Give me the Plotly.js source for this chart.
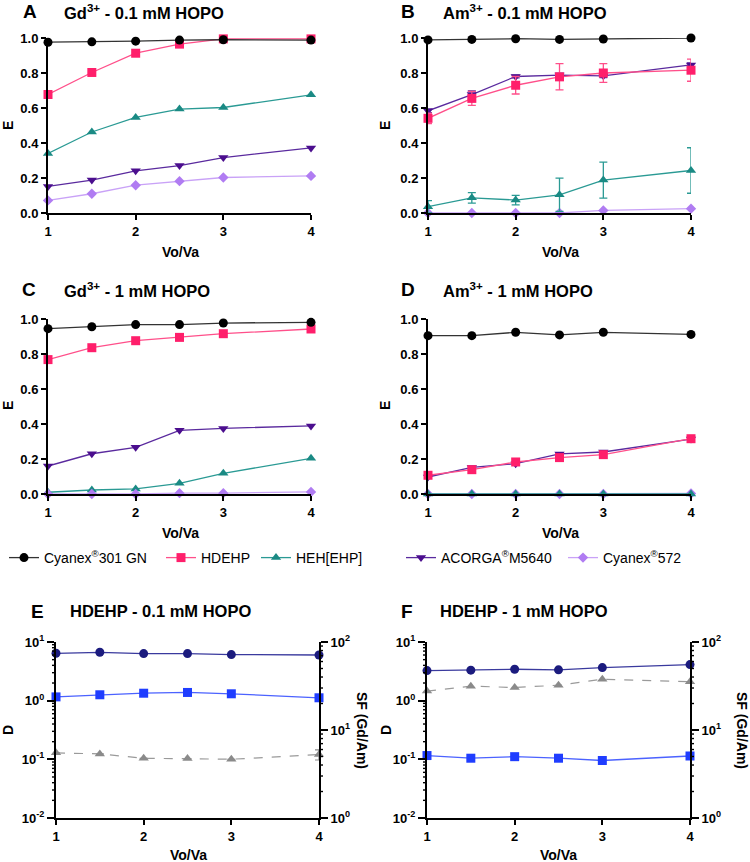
<!DOCTYPE html>
<html>
<head>
<meta charset="utf-8">
<script src="https://cdn.plot.ly/plotly-3.0.1.min.js"></script>
<style>html,body{margin:0;padding:0;background:#fff;}#chart{width:750px;height:862px;}</style>
</head>
<body>
<div id="chart"></div>
<script>
// ---------- data ----------
const vova = [1, 1.5, 2, 2.5, 3, 4];
const xTickVals = [1, 2, 3, 4];
const eTickVals = [0, 0.2, 0.4, 0.6, 0.8, 1.0];
const seriesNames = ['Cyanex<sup>®</sup>301 GN', 'HDEHP', 'HEH[EHP]', 'ACORGA<sup>®</sup>M5640', 'Cyanex<sup>®</sup>572'];

// Panel A: Gd3+ - 0.1 mM HOPO
const gd01_cyanex301 = [0.976, 0.978, 0.982, 0.988, 0.990, 0.988];
const gd01_hdehp     = [0.677, 0.803, 0.913, 0.965, 0.995, 0.995];
const gd01_heh       = [0.340, 0.463, 0.546, 0.594, 0.603, 0.675];
const gd01_acorga    = [0.152, 0.188, 0.241, 0.271, 0.317, 0.372];
const gd01_c572      = [0.072, 0.110, 0.159, 0.182, 0.203, 0.212];

// Panel B: Am3+ - 0.1 mM HOPO
const am01_cyanex301 = [0.989, 0.992, 0.996, 0.992, 0.994, 1.000];
const am01_hdehp     = [0.541, 0.655, 0.730, 0.778, 0.800, 0.816];
const am01_hdehp_err = [0.030, 0.040, 0.050, 0.075, 0.053, 0.063];
const am01_heh       = [0.036, 0.087, 0.074, 0.104, 0.188, 0.243];
const am01_heh_err   = [0.035, 0.030, 0.027, 0.095, 0.103, 0.130];
const am01_acorga    = [0.584, 0.677, 0.780, 0.788, 0.784, 0.846];
const am01_acorga_err= [0.010, 0.020, 0.008, 0.010, 0.010, 0.012];
const am01_c572      = [0.000, 0.000, 0.000, 0.000, 0.015, 0.025];

// Panel C: Gd3+ - 1 mM HOPO
const gd1_cyanex301 = [0.945, 0.956, 0.968, 0.968, 0.977, 0.981];
const gd1_hdehp     = [0.768, 0.836, 0.876, 0.895, 0.916, 0.943];
const gd1_heh       = [0.010, 0.023, 0.029, 0.061, 0.118, 0.204];
const gd1_acorga    = [0.160, 0.230, 0.267, 0.364, 0.375, 0.389];
const gd1_c572      = [0.000, 0.000, 0.000, 0.005, 0.005, 0.012];

// Panel D: Am3+ - 1 mM HOPO
const am1_cyanex301 = [0.905, 0.905, 0.924, 0.909, 0.924, 0.912];
const am1_hdehp     = [0.107, 0.139, 0.183, 0.208, 0.225, 0.316];
const am1_heh       = [0.000, 0.000, 0.000, 0.000, 0.000, 0.000];
const am1_acorga    = [0.097, 0.152, 0.173, 0.229, 0.240, 0.314];
const am1_c572      = [0.000, 0.000, 0.000, 0.000, 0.000, 0.003];

// Panel E: HDEHP - 0.1 mM HOPO
const e_dGd  = [6.42, 6.68, 6.34, 6.34, 6.10, 6.00];
const e_dAm  = [1.16, 1.26, 1.34, 1.38, 1.31, 1.12];
const e_sf   = [5.50, 5.35, 4.77, 4.73, 4.65, 5.26];
const e_sfErr= [0, 0, 0, 0, 0, 0.7];

// Panel F: HDEHP - 1 mM HOPO
const f_dGd = [3.26, 3.31, 3.43, 3.35, 3.66, 4.12];
const f_dAm = [0.116, 0.1045, 0.111, 0.1045, 0.0955, 0.114];
const f_sf  = [27.7, 31.5, 30.4, 32.3, 37.8, 35.3];

const dTickVals  = [0.01, 0.1, 1, 10];
const dTickText  = ['10<sup>-2</sup>', '10<sup>-1</sup>', '10<sup>0</sup>', '10<sup>1</sup>'];
const sfTickVals = [1, 10, 100];
const sfTickText = ['10<sup>0</sup>', '10<sup>1</sup>', '10<sup>2</sup>'];

// ---------- styles ----------
const FONT = 'Arial, "Liberation Sans", Helvetica, sans-serif';
const colors = ['#000000', '#FF1F6B', '#1A8A84', '#4B0E8E', '#B07CF2'];
const lineColors = ['#333333', '#FF4F8A', '#2A9A94', '#5A2A9E', '#C9A2F7'];
const symbols = ['circle', 'square', 'triangle-up', 'triangle-down', 'diamond'];
const mSizes = [9, 9, 9, 9, 8];
const legendIds = ['legend', 'legend2', 'legend3', 'legend4', 'legend5'];

const traces = [];
function addSeries(xa, ya, idx, y, err, showLeg) {
  const t = {
    x: vova, y: y, type: 'scatter', mode: 'lines+markers',
    xaxis: xa, yaxis: ya, name: seriesNames[idx], cliponaxis: false,
    line: {color: lineColors[idx], width: 1.3},
    marker: {color: colors[idx], symbol: symbols[idx], size: mSizes[idx]},
    showlegend: !!showLeg, legend: legendIds[idx]
  };
  if (err) t.error_y = {type: 'data', array: err, visible: true, color: lineColors[idx], thickness: 1.3, width: 4};
  traces.push(t);
}
function panel(xa, ya, data, errs, showLeg, order) {
  (order || [4, 2, 3, 1, 0]).forEach(i => addSeries(xa, ya, i, data[i], errs ? errs[i] : null, showLeg));
}
panel('x', 'y', [gd01_cyanex301, gd01_hdehp, gd01_heh, gd01_acorga, gd01_c572], null, true);
panel('x2', 'y2', [am01_cyanex301, am01_hdehp, am01_heh, am01_acorga, am01_c572],
      [null, am01_hdehp_err, am01_heh_err, am01_acorga_err, null], false);
panel('x3', 'y3', [gd1_cyanex301, gd1_hdehp, gd1_heh, gd1_acorga, gd1_c572], null, false, [2, 4, 3, 1, 0]);
panel('x4', 'y4', [am1_cyanex301, am1_hdehp, am1_heh, am1_acorga, am1_c572], null, false, [4, 0, 2, 3, 1]);

const navy = '#1B1B7E', blue = '#1F3DFF', gray = '#8A8A8A';
function dPanel(xa, yl, yr, dGd, dAm, sf, sfErr) {
  const sfT = {x: vova, y: sf, xaxis: xa, yaxis: yr, type: 'scatter', mode: 'lines+markers', cliponaxis: false,
    showlegend: false, line: {color: '#9A9A9A', width: 1.2, dash: 'dash'}, marker: {color: gray, symbol: 'triangle-up', size: 9}};
  if (sfErr) sfT.error_y = {type: 'data', array: sfErr, visible: true, color: gray, thickness: 1.2, width: 4};
  traces.push(sfT);
  traces.push({x: vova, y: dAm, xaxis: xa, yaxis: yl, type: 'scatter', mode: 'lines+markers', cliponaxis: false,
    showlegend: false, line: {color: '#4B62FF', width: 1.3}, marker: {color: blue, symbol: 'square', size: 9}});
  traces.push({x: vova, y: dGd, xaxis: xa, yaxis: yl, type: 'scatter', mode: 'lines+markers', cliponaxis: false,
    showlegend: false, line: {color: '#3A3A9E', width: 1.3}, marker: {color: navy, symbol: 'circle', size: 9}});
}
dPanel('x5', 'y5', 'y6', e_dGd, e_dAm, e_sf, e_sfErr);
dPanel('x6', 'y7', 'y8', f_dGd, f_dAm, f_sf, null);

// ---------- layout ----------
const W = 750, H = 862;
const px = v => v / W, py = v => 1 - v / H;
const tickFont = {family: FONT, size: 13, color: '#000', weight: 'bold'};

function xAxis(x0, x1, anchor) {
  return {domain: [px(x0), px(x1)], anchor: anchor, range: [1, 4], tickmode: 'array', tickvals: xTickVals,
    showline: true, linewidth: 2, linecolor: '#000', ticks: 'outside', ticklen: 5, tickwidth: 2, tickcolor: '#000',
    showgrid: false, zeroline: false, tickfont: tickFont, fixedrange: true};
}
function yLin(y0, y1, anchor) {
  return {domain: [py(y1), py(y0)], anchor: anchor, range: [0, 1], tickmode: 'array', tickvals: eTickVals,
    tickformat: '.1f', showline: true, linewidth: 2, linecolor: '#000', ticks: 'outside', ticklen: 5, tickwidth: 2,
    tickcolor: '#000', showgrid: false, zeroline: false, tickfont: tickFont, fixedrange: true};
}
function yLog(y0, y1, anchor, lo, hi, tv, tt, side, overlay) {
  const a = {domain: [py(y1), py(y0)], anchor: anchor, type: 'log', range: [lo, hi], tickmode: 'array',
    tickvals: tv, ticktext: tt, showline: true, linewidth: 2, linecolor: '#000', ticks: 'outside', ticklen: 7,
    tickwidth: 2, tickcolor: '#000', showgrid: false, zeroline: false, tickfont: tickFont, fixedrange: true,
    side: side || 'left'};
  if (overlay) a.overlaying = overlay;
  return a;
}

// minor log ticks (axis decoration), placed through the y axis scale
const shapes = [];
function minorTicks(xa, ya, lo, hi, side) {
  const len = 4 / 263;
  for (let e = lo; e < hi; e++) for (let m = 2; m <= 9; m++) {
    const v = m * Math.pow(10, e);
    shapes.push({type: 'line', xref: xa + ' domain', yref: ya,
      x0: side === 'left' ? 0 : 1, x1: side === 'left' ? -len : 1 + len, y0: v, y1: v,
      line: {color: '#000', width: 1.4}, layer: 'above'});
  }
}
minorTicks('x5', 'y5', -2, 1, 'left');
minorTicks('x5', 'y6', 0, 2, 'right');
minorTicks('x6', 'y7', -2, 1, 'left');
minorTicks('x6', 'y8', 0, 2, 'right');

const ann = [];
function txt(x, y, text, size, opts) {
  ann.push(Object.assign({x: px(x), y: py(y), xref: 'paper', yref: 'paper', text: text, showarrow: false,
    font: {family: FONT, size: size, color: '#000', weight: 'bold'}, xanchor: 'center', yanchor: 'middle'}, opts || {}));
}
// panel letters and titles
[[30, 12, 'A', 62, 'Gd<sup>3+</sup> - 0.1 mM HOPO'], [408, 12, 'B', 441, 'Am<sup>3+</sup> - 0.1 mM HOPO'],
 [29, 290, 'C', 62, 'Gd<sup>3+</sup> - 1 mM HOPO'], [408, 290, 'D', 441, 'Am<sup>3+</sup> - 1 mM HOPO'],
 [37, 611, 'E', 68, 'HDEHP - 0.1 mM HOPO'], [407, 611, 'F', 438, 'HDEHP - 1 mM HOPO']].forEach(p => {
  txt(p[0], p[1], p[2], 19);
  txt(p[3], p[1], p[4], 16.5, {xanchor: 'left'});
});
// axis titles
[[8, 126], [385, 126], [8, 406], [385, 406]].forEach(p => txt(p[0], p[1], 'E', 14, {textangle: -90}));
[[180, 252], [560, 252], [180, 533], [560, 533], [188, 855], [558, 855]].forEach(p => txt(p[0], p[1], 'Vo/Va', 14));
txt(8, 730, 'D', 14, {textangle: -90});
txt(386, 730, 'D', 14, {textangle: -90});
txt(362, 730, 'SF (Gd/Am)', 14, {textangle: 90});
txt(742, 730, 'SF (Gd/Am)', 14, {textangle: 90});

const layout = {
  width: W, height: H, margin: {l: 0, r: 0, t: 0, b: 0}, paper_bgcolor: '#fff', plot_bgcolor: 'rgba(0,0,0,0)',
  font: {family: FONT, color: '#000'}, showlegend: true,
  xaxis: xAxis(48, 311, 'y'), yaxis: yLin(38, 213, 'x'),
  xaxis2: xAxis(428, 691, 'y2'), yaxis2: yLin(38, 213, 'x2'),
  xaxis3: xAxis(48, 311, 'y3'), yaxis3: yLin(319, 494, 'x3'),
  xaxis4: xAxis(428, 691, 'y4'), yaxis4: yLin(319, 494, 'x4'),
  xaxis5: xAxis(56, 319, 'y5'),
  yaxis5: yLog(642, 818, 'x5', -2, 1, dTickVals, dTickText),
  yaxis6: yLog(642, 818, 'x5', 0, 2, sfTickVals, sfTickText, 'right', 'y5'),
  xaxis6: xAxis(427, 690, 'y7'),
  yaxis7: yLog(642, 818, 'x6', -2, 1, dTickVals, dTickText),
  yaxis8: yLog(642, 818, 'x6', 0, 2, sfTickVals, sfTickText, 'right', 'y7'),
  annotations: ann, shapes: shapes
};
const legX = [4, 161, 256, 401, 563];
legendIds.forEach((id, i) => {
  layout[id] = {x: px(legX[i]), y: py(558), xanchor: 'left', yanchor: 'middle', orientation: 'h',
    bgcolor: 'rgba(0,0,0,0)', borderwidth: 0, font: {family: FONT, size: 14, color: '#000'}};
});

Plotly.newPlot('chart', traces, layout, {staticPlot: true, displayModeBar: false});
</script>
</body>
</html>
